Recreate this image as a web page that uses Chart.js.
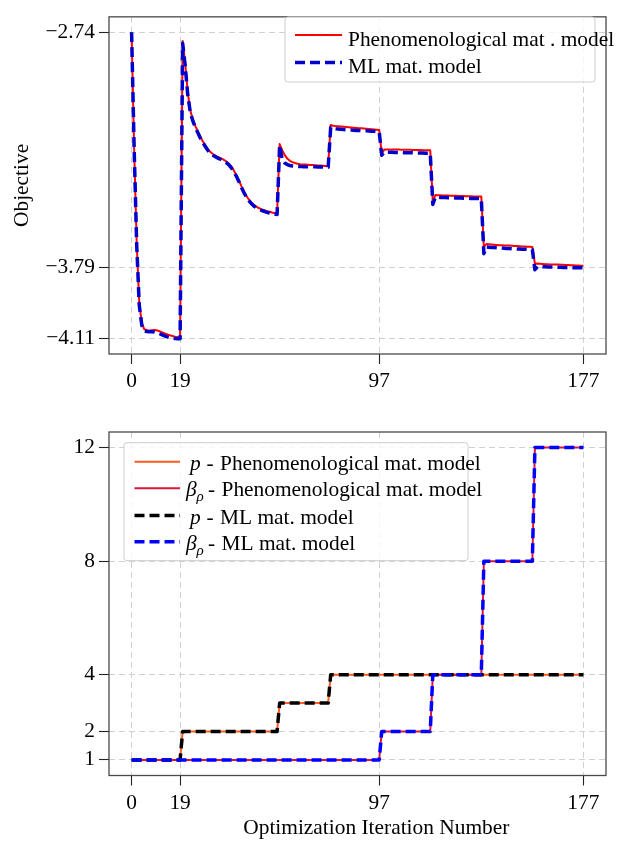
<!DOCTYPE html>
<html>
<head>
<meta charset="utf-8">
<script src="https://cdn.jsdelivr.net/npm/chart.js@4.4.1/dist/chart.umd.min.js"></script>
<style>
  html, body { margin: 0; padding: 0; background: #fff; }
  #fig { position: relative; width: 623px; height: 841px; overflow: hidden; }
  canvas { position: absolute; left: 0; }
</style>
</head>
<body>
<div id="fig">
  <canvas id="objectiveChart" width="623" height="400" style="top:0;width:623px;height:400px"></canvas>
  <canvas id="paramChart" width="623" height="441" style="top:400px;width:623px;height:441px"></canvas>
</div>
<script>
// Optimization iterations
const iterations = [
  0, 1, 2, 3, 4, 5, 6, 7, 8, 9, 10, 11, 12, 13, 14, 15, 16, 17, 18, 19,
  20, 21, 22, 23, 24, 25, 26, 27, 28, 29, 30, 31, 32, 33, 34, 35, 36, 37, 38, 39,
  40, 41, 42, 43, 44, 45, 46, 47, 48, 49, 50, 51, 52, 53, 54, 55, 56, 57, 58, 59,
  60, 61, 62, 63, 64, 65, 66, 67, 68, 69, 70, 71, 72, 73, 74, 75, 76, 77, 78, 79,
  80, 81, 82, 83, 84, 85, 86, 87, 88, 89, 90, 91, 92, 93, 94, 95, 96, 97, 98, 99,
  100, 101, 102, 103, 104, 105, 106, 107, 108, 109, 110, 111, 112, 113, 114, 115, 116, 117, 118, 119,
  120, 121, 122, 123, 124, 125, 126, 127, 128, 129, 130, 131, 132, 133, 134, 135, 136, 137, 138, 139,
  140, 141, 142, 143, 144, 145, 146, 147, 148, 149, 150, 151, 152, 153, 154, 155, 156, 157, 158, 159,
  160, 161, 162, 163, 164, 165, 166, 167, 168, 169, 170, 171, 172, 173, 174, 175, 176, 177
];

// Tick positions
const xTicks = [0, 19, 97, 177];
const objectiveTicks = [-4.11, -3.79, -2.74];
const paramTicks = [1, 2, 4, 8, 12];

// Objective, phenomenological material model
const objPhenomenological = [
  -2.740, -3.260, -3.680, -3.950, -4.040, -4.068, -4.072, -4.073, -4.072, -4.071,
  -4.073, -4.077, -4.082, -4.087, -4.091, -4.095, -4.098, -4.101, -4.103, -4.104,
  -2.780, -2.880, -3.010, -3.090, -3.130, -3.160, -3.185, -3.210, -3.230, -3.248,
  -3.265, -3.277, -3.286, -3.293, -3.299, -3.304, -3.310, -3.317, -3.327, -3.340,
  -3.357, -3.378, -3.402, -3.428, -3.452, -3.472, -3.489, -3.502, -3.513, -3.521,
  -3.527, -3.532, -3.536, -3.540, -3.543, -3.546, -3.548, -3.550,
  -3.240, -3.268, -3.290, -3.305, -3.315, -3.321, -3.325, -3.328, -3.330, -3.331,
  -3.332, -3.333, -3.334, -3.334, -3.335, -3.336, -3.336, -3.337, -3.338, -3.338,
  -3.155, -3.158, -3.160, -3.161, -3.162, -3.163, -3.164, -3.165, -3.166, -3.167,
  -3.168, -3.169, -3.170, -3.171, -3.172, -3.173, -3.174, -3.175, -3.176, -3.177,
  -3.285, -3.264, -3.264, -3.264, -3.265, -3.265, -3.265, -3.265, -3.266, -3.266,
  -3.266, -3.266, -3.267, -3.267, -3.267, -3.267, -3.268, -3.268, -3.268, -3.268,
  -3.500, -3.468, -3.469, -3.469, -3.470, -3.470, -3.470, -3.471, -3.471, -3.471,
  -3.472, -3.472, -3.472, -3.473, -3.473, -3.473, -3.474, -3.474, -3.474, -3.475,
  -3.700, -3.687, -3.688, -3.689, -3.690, -3.691, -3.692, -3.692, -3.693, -3.694,
  -3.694, -3.695, -3.696, -3.696, -3.697, -3.698, -3.698, -3.699, -3.699, -3.700,
  -3.776, -3.774, -3.775, -3.776, -3.777, -3.777, -3.778, -3.778, -3.779, -3.779,
  -3.780, -3.780, -3.781, -3.781, -3.782, -3.782, -3.783, -3.783, -3.784, -3.784
];

// Objective, ML material model
const objML = [
  -2.740, -3.260, -3.690, -3.960, -4.050, -4.075, -4.078, -4.079, -4.079, -4.080,
  -4.083, -4.088, -4.093, -4.098, -4.102, -4.105, -4.107, -4.109, -4.110, -4.110,
  -2.790, -2.890, -3.020, -3.098, -3.137, -3.166, -3.191, -3.215, -3.235, -3.253,
  -3.270, -3.282, -3.291, -3.298, -3.304, -3.309, -3.315, -3.322, -3.332, -3.345,
  -3.362, -3.383, -3.407, -3.433, -3.457, -3.477, -3.494, -3.507, -3.518, -3.526,
  -3.532, -3.537, -3.541, -3.545, -3.548, -3.551, -3.553, -3.555,
  -3.245, -3.310, -3.325, -3.332, -3.336, -3.338, -3.339, -3.340, -3.340, -3.341,
  -3.341, -3.341, -3.342, -3.342, -3.342, -3.343, -3.343, -3.343, -3.344, -3.344,
  -3.166, -3.170, -3.172, -3.173, -3.174, -3.175, -3.176, -3.177, -3.177, -3.178,
  -3.179, -3.179, -3.180, -3.181, -3.181, -3.182, -3.183, -3.183, -3.184, -3.185,
  -3.290, -3.276, -3.277, -3.277, -3.277, -3.278, -3.278, -3.278, -3.278, -3.279,
  -3.279, -3.279, -3.279, -3.280, -3.280, -3.280, -3.280, -3.281, -3.281, -3.281,
  -3.510, -3.478, -3.478, -3.479, -3.479, -3.479, -3.480, -3.480, -3.480, -3.481,
  -3.481, -3.481, -3.482, -3.482, -3.482, -3.483, -3.483, -3.483, -3.484, -3.484,
  -3.730, -3.700, -3.701, -3.702, -3.703, -3.704, -3.705, -3.705, -3.706, -3.707,
  -3.707, -3.708, -3.708, -3.709, -3.709, -3.710, -3.710, -3.711, -3.711, -3.712,
  -3.802, -3.788, -3.788, -3.789, -3.789, -3.790, -3.790, -3.790, -3.791, -3.791,
  -3.791, -3.792, -3.792, -3.792, -3.792, -3.793, -3.793, -3.793, -3.793, -3.793
];

// Penalization exponent p
const pPhenomenological = [
  1, 1, 1, 1, 1, 1, 1, 1, 1, 1, 1, 1, 1, 1, 1, 1, 1, 1, 1, 1,
  2, 2, 2, 2, 2, 2, 2, 2, 2, 2, 2, 2, 2, 2, 2, 2, 2, 2, 2, 2,
  2, 2, 2, 2, 2, 2, 2, 2, 2, 2, 2, 2, 2, 2, 2, 2, 2, 2,
  3, 3, 3, 3, 3, 3, 3, 3, 3, 3, 3, 3, 3, 3, 3, 3, 3, 3, 3, 3,
  4, 4, 4, 4, 4, 4, 4, 4, 4, 4, 4, 4, 4, 4, 4, 4, 4, 4, 4, 4,
  4, 4, 4, 4, 4, 4, 4, 4, 4, 4, 4, 4, 4, 4, 4, 4, 4, 4, 4, 4,
  4, 4, 4, 4, 4, 4, 4, 4, 4, 4, 4, 4, 4, 4, 4, 4, 4, 4, 4, 4,
  4, 4, 4, 4, 4, 4, 4, 4, 4, 4, 4, 4, 4, 4, 4, 4, 4, 4, 4, 4,
  4, 4, 4, 4, 4, 4, 4, 4, 4, 4, 4, 4, 4, 4, 4, 4, 4, 4, 4, 4
];
const pML = [
  1, 1, 1, 1, 1, 1, 1, 1, 1, 1, 1, 1, 1, 1, 1, 1, 1, 1, 1, 1,
  2, 2, 2, 2, 2, 2, 2, 2, 2, 2, 2, 2, 2, 2, 2, 2, 2, 2, 2, 2,
  2, 2, 2, 2, 2, 2, 2, 2, 2, 2, 2, 2, 2, 2, 2, 2, 2, 2,
  3, 3, 3, 3, 3, 3, 3, 3, 3, 3, 3, 3, 3, 3, 3, 3, 3, 3, 3, 3,
  4, 4, 4, 4, 4, 4, 4, 4, 4, 4, 4, 4, 4, 4, 4, 4, 4, 4, 4, 4,
  4, 4, 4, 4, 4, 4, 4, 4, 4, 4, 4, 4, 4, 4, 4, 4, 4, 4, 4, 4,
  4, 4, 4, 4, 4, 4, 4, 4, 4, 4, 4, 4, 4, 4, 4, 4, 4, 4, 4, 4,
  4, 4, 4, 4, 4, 4, 4, 4, 4, 4, 4, 4, 4, 4, 4, 4, 4, 4, 4, 4,
  4, 4, 4, 4, 4, 4, 4, 4, 4, 4, 4, 4, 4, 4, 4, 4, 4, 4, 4, 4
];

// Projection sharpness beta_rho
const betaPhenomenological = [
  1, 1, 1, 1, 1, 1, 1, 1, 1, 1, 1, 1, 1, 1, 1, 1, 1, 1, 1, 1,
  1, 1, 1, 1, 1, 1, 1, 1, 1, 1, 1, 1, 1, 1, 1, 1, 1, 1, 1, 1,
  1, 1, 1, 1, 1, 1, 1, 1, 1, 1, 1, 1, 1, 1, 1, 1, 1, 1, 1, 1,
  1, 1, 1, 1, 1, 1, 1, 1, 1, 1, 1, 1, 1, 1, 1, 1, 1, 1, 1, 1,
  1, 1, 1, 1, 1, 1, 1, 1, 1, 1, 1, 1, 1, 1, 1, 1, 1, 1,
  2, 2, 2, 2, 2, 2, 2, 2, 2, 2, 2, 2, 2, 2, 2, 2, 2, 2, 2, 2,
  4, 4, 4, 4, 4, 4, 4, 4, 4, 4, 4, 4, 4, 4, 4, 4, 4, 4, 4, 4,
  8, 8, 8, 8, 8, 8, 8, 8, 8, 8, 8, 8, 8, 8, 8, 8, 8, 8, 8, 8,
  12, 12, 12, 12, 12, 12, 12, 12, 12, 12, 12, 12, 12, 12, 12, 12, 12, 12, 12, 12
];
const betaML = [
  1, 1, 1, 1, 1, 1, 1, 1, 1, 1, 1, 1, 1, 1, 1, 1, 1, 1, 1, 1,
  1, 1, 1, 1, 1, 1, 1, 1, 1, 1, 1, 1, 1, 1, 1, 1, 1, 1, 1, 1,
  1, 1, 1, 1, 1, 1, 1, 1, 1, 1, 1, 1, 1, 1, 1, 1, 1, 1, 1, 1,
  1, 1, 1, 1, 1, 1, 1, 1, 1, 1, 1, 1, 1, 1, 1, 1, 1, 1, 1, 1,
  1, 1, 1, 1, 1, 1, 1, 1, 1, 1, 1, 1, 1, 1, 1, 1, 1, 1,
  2, 2, 2, 2, 2, 2, 2, 2, 2, 2, 2, 2, 2, 2, 2, 2, 2, 2, 2, 2,
  4, 4, 4, 4, 4, 4, 4, 4, 4, 4, 4, 4, 4, 4, 4, 4, 4, 4, 4, 4,
  8, 8, 8, 8, 8, 8, 8, 8, 8, 8, 8, 8, 8, 8, 8, 8, 8, 8, 8, 8,
  12, 12, 12, 12, 12, 12, 12, 12, 12, 12, 12, 12, 12, 12, 12, 12, 12, 12, 12, 12
];

const SERIF = '"Liberation Serif", "Times New Roman", serif';
const FONT_PX = 21.4;
Chart.defaults.font.family = SERIF;
Chart.defaults.font.size = FONT_PX;
Chart.defaults.color = '#000';

const COLORS = {
  red: '#ff0000',
  mlBlue: '#0000cd',
  orange: '#ff5a1f',
  crimson: '#dc143c',
  black: '#000000',
  blue: '#0000ff',
  grid: '#d0d0d0',
  frame: '#4a4a4a',
  legendEdge: '#cccccc'
};
const DASH = [10, 5];

function points(ys) {
  return iterations.map((x, i) => ({ x: x, y: ys[i] }));
}

function fixedTicks(values) {
  return scale => { scale.ticks = values.map(v => ({ value: v })); };
}

function formatObjective(v) {
  return v < 0 ? '\u2212' + Math.abs(v).toFixed(2) : v.toFixed(2);
}

function lineDataset(label, ys, color, width, dash, order) {
  return {
    label: label,
    data: points(ys),
    borderColor: color,
    backgroundColor: color,
    borderWidth: width,
    borderDash: dash,
    borderCapStyle: 'butt',
    borderJoinStyle: 'round',
    pointRadius: 0,
    pointHoverRadius: 0,
    tension: 0,
    fill: false,
    order: order
  };
}

function xScale(height) {
  return {
    type: 'linear',
    min: -8.85,
    max: 185.85,
    afterBuildTicks: fixedTicks(xTicks),
    afterFit: scale => { scale.height = height; },
    ticks: { padding: 5, maxRotation: 0, autoSkip: false, callback: v => String(v) },
    grid: { color: COLORS.grid, lineWidth: 1, tickColor: '#222', tickLength: 10, tickWidth: 1.1, tickBorderDash: [] },
    border: { display: false, dash: [6, 4] }
  };
}

function yScale(min, max, ticks, fmt) {
  return {
    type: 'linear',
    min: min,
    max: max,
    afterBuildTicks: fixedTicks(ticks),
    afterFit: scale => { scale.width = 109; },
    ticks: { padding: 4, autoSkip: false, callback: fmt },
    grid: { color: COLORS.grid, lineWidth: 1, tickColor: '#222', tickLength: 10, tickWidth: 1.1, tickBorderDash: [] },
    border: { display: false, dash: [6, 4] }
  };
}

// Box around the plotting area
const framePlugin = {
  id: 'frame',
  afterDatasetsDraw(chart) {
    const { ctx, chartArea: a } = chart;
    ctx.save();
    ctx.strokeStyle = COLORS.frame;
    ctx.lineWidth = 1.3;
    ctx.strokeRect(a.left, a.top, a.right - a.left, a.bottom - a.top);
    ctx.restore();
  }
};

function legendBox(ctx, x, y, w, h) {
  ctx.save();
  ctx.beginPath();
  if (ctx.roundRect) ctx.roundRect(x, y, w, h, 3); else ctx.rect(x, y, w, h);
  ctx.fillStyle = 'rgba(255,255,255,0.8)';
  ctx.fill();
  ctx.strokeStyle = COLORS.legendEdge;
  ctx.lineWidth = 1;
  ctx.stroke();
  ctx.restore();
}

function legendHandle(ctx, x1, x2, y, color, width, dash) {
  ctx.save();
  ctx.beginPath();
  ctx.strokeStyle = color;
  ctx.lineWidth = width;
  ctx.setLineDash(dash);
  ctx.lineCap = 'butt';
  ctx.moveTo(x1, y);
  ctx.lineTo(x2, y);
  ctx.stroke();
  ctx.restore();
}

function text(ctx, str, x, y, opts) {
  const o = opts || {};
  ctx.save();
  ctx.font = (o.italic ? 'italic ' : '') + (o.size || FONT_PX) + 'px ' + SERIF;
  ctx.fillStyle = '#000';
  ctx.textAlign = o.align || 'left';
  ctx.textBaseline = 'alphabetic';
  ctx.fillText(str, x, y);
  ctx.restore();
}

const objectiveDecor = {
  id: 'objectiveDecor',
  afterDraw(chart) {
    const ctx = chart.ctx;
    // legend
    legendBox(ctx, 285, 17, 310, 65);
    legendHandle(ctx, 295, 342, 35, COLORS.red, 2, []);
    text(ctx, 'Phenomenological mat . model', 348, 45.5);
    legendHandle(ctx, 295, 342, 62.5, COLORS.mlBlue, 3.5, DASH);
    text(ctx, 'ML mat. model', 348, 72.5);
    // y axis title
    const a = chart.chartArea;
    ctx.save();
    ctx.translate(27.5, (a.top + a.bottom) / 2);
    ctx.rotate(-Math.PI / 2);
    ctx.font = FONT_PX + 'px ' + SERIF;
    ctx.fillStyle = '#000';
    ctx.textAlign = 'center';
    ctx.textBaseline = 'alphabetic';
    ctx.fillText('Objective', 0, 0);
    ctx.restore();
  }
};

const paramDecor = {
  id: 'paramDecor',
  afterDraw(chart) {
    const ctx = chart.ctx;
    legendBox(ctx, 124, 42.7, 344, 118);
    const rows = [
      { y: 61.7, color: COLORS.orange, width: 2, dash: [], sym: 'p', rest: 'Phenomenological mat. model' },
      { y: 88.3, color: COLORS.crimson, width: 2, dash: [], sym: 'beta', rest: 'Phenomenological mat. model' },
      { y: 115.5, color: COLORS.black, width: 3.5, dash: DASH, sym: 'p', rest: 'ML mat. model' },
      { y: 141.7, color: COLORS.blue, width: 3.5, dash: DASH, sym: 'beta', rest: 'ML mat. model' }
    ];
    rows.forEach(r => {
      legendHandle(ctx, 134.5, 180, r.y, r.color, r.width, r.dash);
      const base = r.y + 8;
      if (r.sym === 'p') {
        text(ctx, 'p', 190, base, { italic: true });
        text(ctx, '-', 206.5, base);
        text(ctx, r.rest, 220, base);
      } else {
        text(ctx, '\u03b2', 186, base, { italic: true });
        text(ctx, '\u03c1', 196.5, base + 5, { italic: true, size: 15 });
        text(ctx, '-', 208, base);
        text(ctx, r.rest, 221.5, base);
      }
    });
    // x axis title
    text(ctx, 'Optimization Iteration Number', 376.3, 434, { align: 'center' });
  }
};

const baseOptions = {
  responsive: false,
  maintainAspectRatio: false,
  devicePixelRatio: 1,
  animation: false,
  events: [],
  plugins: { legend: { display: false }, tooltip: { enabled: false }, title: { display: false } }
};

new Chart(document.getElementById('objectiveChart'), {
  type: 'line',
  data: {
    datasets: [
      lineDataset('Phenomenological mat . model', objPhenomenological, COLORS.red, 2, [], 2),
      lineDataset('ML mat. model', objML, COLORS.mlBlue, 3.5, DASH, 1)
    ]
  },
  options: Object.assign({}, baseOptions, {
    layout: { padding: { top: 10, right: 17, left: 0, bottom: 0 } },
    scales: {
      x: xScale(46),
      y: yScale(-4.1785, -2.6715, objectiveTicks, formatObjective)
    }
  }),
  plugins: [framePlugin, objectiveDecor]
});

new Chart(document.getElementById('paramChart'), {
  type: 'line',
  data: {
    datasets: [
      lineDataset('p - Phenomenological mat. model', pPhenomenological, COLORS.orange, 2, [], 4),
      lineDataset('\u03b2\u03c1- Phenomenological mat. model', betaPhenomenological, COLORS.crimson, 2, [], 3),
      lineDataset('p - ML mat. model', pML, COLORS.black, 3.5, DASH, 2),
      lineDataset('\u03b2\u03c1- ML mat. model', betaML, COLORS.blue, 3.5, DASH, 1)
    ]
  },
  options: Object.assign({}, baseOptions, {
    layout: { padding: { top: 32, right: 17, left: 0, bottom: 0 } },
    scales: {
      x: xScale(65.5),
      y: yScale(0.45, 12.55, paramTicks, v => String(v))
    }
  }),
  plugins: [framePlugin, paramDecor]
});
</script>
</body>
</html>
